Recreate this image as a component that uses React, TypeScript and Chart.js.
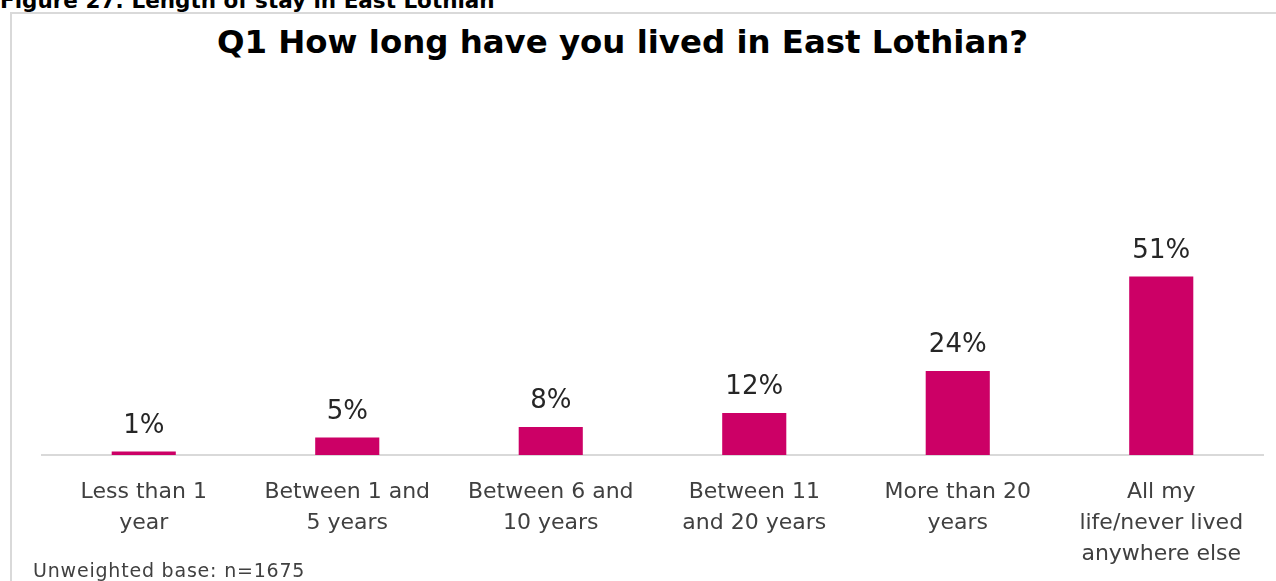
import React, { useEffect, useRef } from "react";
import { Chart, registerables } from "chart.js";

Chart.register(...registerables);

const captionText = "Figure 27: Length of stay in East Lothian";
const titleText = "Q1 How long have you lived in East Lothian?";
const footnoteText = "Unweighted base: n=1675";

const categories: string[][] = [
  ["Less than 1", "year"],
  ["Between 1 and", "5 years"],
  ["Between 6 and", "10 years"],
  ["Between 11", "and 20 years"],
  ["More than 20", "years"],
  ["All my", "life/never lived", "anywhere else"],
];

const percentValues: number[] = [1, 5, 8, 12, 24, 51];

const barColor = "#CC0066";

const valueLabels = {
  id: "valueLabels",
  afterDatasetsDraw(chart: any) {
    const ctx = chart.ctx;
    const meta = chart.getDatasetMeta(0);
    const data = chart.data.datasets[0].data as number[];
    ctx.save();
    ctx.font = "26px 'DejaVu Sans'";
    ctx.fillStyle = "#262626";
    ctx.textAlign = "center";
    ctx.textBaseline = "alphabetic";
    meta.data.forEach((el: any, i: number) => {
      ctx.fillText(`${data[i]}%`, el.x, el.y - 19);
    });
    ctx.restore();
  },
};

export default function App() {
  const canvasRef = useRef<HTMLCanvasElement | null>(null);

  useEffect(() => {
    if (!canvasRef.current) return;
    const chart = new Chart(canvasRef.current, {
      type: "bar",
      data: {
        labels: categories,
        datasets: [
          {
            data: percentValues,
            backgroundColor: barColor,
            borderWidth: 0,
            barPercentage: 0.315,
            categoryPercentage: 1,
          },
        ],
      },
      options: {
        responsive: false,
        animation: false,
        devicePixelRatio: 1,
        layout: { padding: { left: 30, right: 13, top: 91, bottom: 11 } },
        plugins: {
          legend: { display: false },
          title: { display: false },
          tooltip: { enabled: false },
        },
        scales: {
          x: {
            grid: { display: false, drawTicks: false },
            border: { display: true, color: "#d9d9d9", width: 2 },
            afterFit(scale: any) {
              scale.height = 115;
            },
            ticks: {
              color: "#404040",
              padding: 22,
              maxRotation: 0,
              autoSkip: false,
              font: { family: "'DejaVu Sans'", size: 22, lineHeight: 31 / 22 },
            },
          },
          y: {
            display: false,
            min: 0,
            max: 100,
          },
        },
      },
      plugins: [valueLabels],
    });
    return () => chart.destroy();
  }, []);

  return (
    <div
      style={{
        position: "absolute",
        left: 0,
        top: 0,
        width: 1276,
        height: 581,
        overflow: "hidden",
        background: "#ffffff",
      }}
    >
      <div
        style={{
          position: "absolute",
          left: 0,
          top: -10,
          whiteSpace: "nowrap",
          font: "bold 21.5px/22px 'DejaVu Sans', sans-serif",
          color: "#000000",
        }}
      >
        {captionText}
      </div>
      <div
        style={{
          position: "absolute",
          left: 10,
          top: 12,
          width: 1400,
          height: 700,
          border: "2px solid #d9d9d9",
          boxSizing: "border-box",
        }}
      />
      <div
        style={{
          position: "absolute",
          left: 0,
          top: 26,
          width: 1245,
          textAlign: "center",
          whiteSpace: "nowrap",
          font: "bold 32.4px/32px 'DejaVu Sans', sans-serif",
          color: "#000000",
        }}
      >
        {titleText}
      </div>
      <canvas
        ref={canvasRef}
        width={1264}
        height={567}
        style={{ position: "absolute", left: 12, top: 14, width: 1264, height: 567 }}
      />
      <div
        style={{
          position: "absolute",
          left: 33,
          top: 561,
          whiteSpace: "nowrap",
          letterSpacing: "0.8px",
          font: "19px/19px 'DejaVu Sans', sans-serif",
          color: "#404040",
        }}
      >
        {footnoteText}
      </div>
    </div>
  );
}
